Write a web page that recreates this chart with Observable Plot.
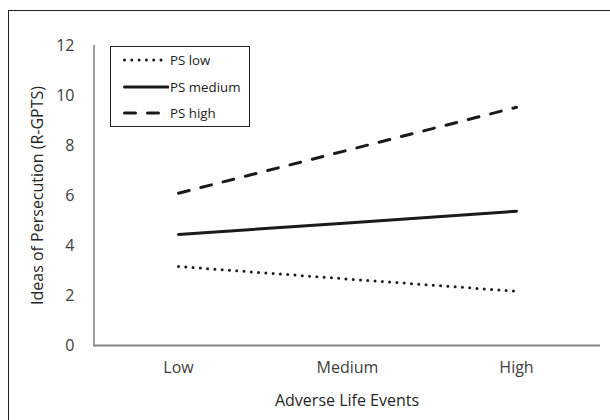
<!DOCTYPE html>
<html>
<head>
<meta charset="utf-8">
<script src="https://cdn.jsdelivr.net/npm/d3@7"></script>
<script src="https://cdn.jsdelivr.net/npm/@observablehq/plot@0.6"></script>
<style>
  html, body { margin: 0; padding: 0; background: #fff; }
  #wrap { position: relative; width: 610px; height: 420px; overflow: hidden; font-family: "Open Sans", sans-serif; }
  #border { position: absolute; left: 8px; top: 10px; width: 620px; height: 430px; border: 1.5px solid #222; box-sizing: border-box; pointer-events: none; }
  #legend { position: absolute; left: 110px; top: 46px; width: 140px; height: 81px; border: 1px solid #222; box-sizing: border-box; background: #fff; font-size: 13.3px; color: #222; }
  .item { position: absolute; left: 12px; height: 20px; display: flex; align-items: center; }
  .item svg { display: block; }
  .item span { margin-left: 1px; }
</style>
</head>
<body>
<div id="wrap">
  <div id="chart"></div>
  <div id="legend"></div>
  <div id="border"></div>
</div>
<script>
const categories = ["Low", "Medium", "High"];
const seriesNames = ["PS low", "PS medium", "PS high"];
const psLow = [3.16, 2.66, 2.17];
const psMedium = [4.44, 4.90, 5.37];
const psHigh = [6.09, 7.81, 9.53];
const yTicks = [0, 2, 4, 6, 8, 10, 12];
const xTitle = "Adverse Life Events";
const yTitle = "Ideas of Persecution (R-GPTS)";

const dashes = {"PS low": "0 7.3", "PS medium": null, "PS high": "11 12"};
const seriesValues = {"PS low": psLow, "PS medium": psMedium, "PS high": psHigh};

const data = [];
for (const s of seriesNames) {
  categories.forEach((c, i) => data.push({series: s, cat: c, value: seriesValues[s][i]}));
}

const lineMarks = seriesNames.map(s =>
  Plot.line(data.filter(d => d.series === s), {
    x: "cat", y: "value", stroke: "#1a1a1a", strokeWidth: 3,
    strokeLinecap: "round", strokeDasharray: dashes[s] || undefined
  })
);

const chart = Plot.plot({
  width: 610,
  height: 420,
  marginLeft: 93,
  marginRight: 10,
  marginTop: 45,
  marginBottom: 75,
  style: {fontFamily: "'Open Sans', sans-serif", fontSize: "16px", color: "#404040", background: "transparent"},
  x: {type: "point", domain: categories, padding: 0.5, label: null},
  y: {domain: [0, 12], ticks: yTicks, label: null},
  marks: [
    Plot.axisY({ticks: yTicks, tickSize: 0, tickPadding: 19, fontSize: 16, fill: "#404040", label: null}),
    Plot.axisX({tickSize: 0, tickPadding: 16, fontSize: 16, fill: "#404040", label: null}),
    Plot.ruleX([categories[0]], {stroke: "#858585", strokeWidth: 1.5, dx: -84.5, y1: 0, y2: 12}),
    Plot.ruleY([0], {stroke: "#858585", strokeWidth: 2}),
    ...lineMarks,
    Plot.text([xTitle], {frameAnchor: "bottom", dy: 60, fontSize: 16, fill: "#262626"}),
    Plot.text([yTitle], {frameAnchor: "left", textAnchor: "middle", dx: -56, rotate: -90, fontSize: 16, fill: "#262626"})
  ]
});
document.getElementById("chart").appendChild(chart);

// Legend (HTML)
const legend = document.getElementById("legend");
seriesNames.forEach((s, i) => {
  const item = document.createElement("div");
  item.className = "item";
  item.style.top = (3 + i * 26.5) + "px";
  const svg = d3.create("svg").attr("width", 46).attr("height", 10);
  svg.append("line").attr("x1", 1.5).attr("x2", 45).attr("y1", 5).attr("y2", 5)
    .attr("stroke", "#1a1a1a").attr("stroke-width", 3).attr("stroke-linecap", "round")
    .attr("stroke-dasharray", dashes[s] || null);
  item.appendChild(svg.node());
  const t = document.createElement("span");
  t.textContent = s;
  item.appendChild(t);
  legend.appendChild(item);
});
</script>
</body>
</html>
